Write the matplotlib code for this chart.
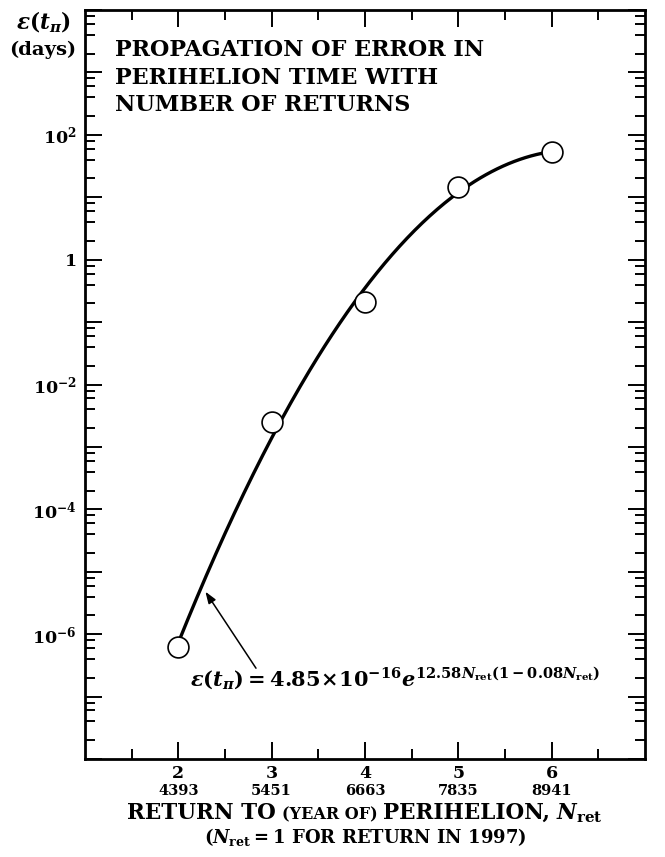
import numpy as np
import matplotlib
matplotlib.use("Agg")
import matplotlib.pyplot as plt
from matplotlib.ticker import LogLocator, FixedLocator, FuncFormatter, NullFormatter

# bold serif for text, bold math throughout
plt.rcParams['font.family'] = 'DejaVu Serif'
plt.rcParams['font.weight'] = 'bold'
plt.rcParams['mathtext.fontset'] = 'custom'
plt.rcParams['mathtext.rm'] = 'DejaVu Serif:bold'
plt.rcParams['mathtext.bf'] = 'DejaVu Serif:bold'
plt.rcParams['mathtext.it'] = 'DejaVu Serif:italic:bold'

# returns to perihelion and measured error (days)
n_ret = [2, 3, 4, 5, 6]
years = [4393, 5451, 6663, 7835, 8941]
err_days = [6.3e-7, 2.5e-3, 0.21, 14.4, 54.0]

# fit: eps = A * exp(b*N*(1 - c*N))
fit_A = 4.85e-16
fit_b = 12.58
fit_c = 0.08

W, H = 665, 857
fig = plt.figure(figsize=(W / 100, H / 100), dpi=100)
ax = fig.add_axes([85 / W, 1 - 759 / H, 560 / W, 749 / H])

nn = np.linspace(n_ret[0], n_ret[-1], 200)
ax.plot(nn, fit_A * np.exp(fit_b * nn * (1 - fit_c * nn)), color='k', lw=2.4, zorder=2)
ax.plot(n_ret, err_days, 'o', ms=15, mfc='white', mec='k', mew=1.2, zorder=3)

ax.set_yscale('log')
ax.set_xlim(1, 7)
ax.set_ylim(1e-8, 1e4)


def ylab(v, pos):
    e = int(round(np.log10(v)))
    if e % 2 or e < -6 or e > 2:
        return ''
    if e == 0:
        return '1'
    return r'$\mathbf{10^{%d}}$' % e


ax.yaxis.set_major_locator(LogLocator(base=10, numticks=30))
ax.yaxis.set_minor_locator(LogLocator(base=10, subs=(2, 4, 6, 8), numticks=30))
ax.yaxis.set_major_formatter(FuncFormatter(ylab))
ax.yaxis.set_minor_formatter(NullFormatter())

ax.xaxis.set_major_locator(FixedLocator(n_ret))
ax.xaxis.set_minor_locator(FixedLocator(np.arange(1.5, 7, 1.0)))
ax.set_xticklabels([str(n) for n in n_ret])

ax.tick_params(which='both', direction='in', top=True, right=True, width=1.4, colors='k')
ax.tick_params(which='major', length=12, labelsize=12.5)
ax.tick_params(axis='y', which='major', pad=6)
ax.tick_params(axis='x', which='major', pad=4)
ax.tick_params(which='minor', length=7.5)
for s in ax.spines.values():
    s.set_linewidth(2)

for n, yr in zip(n_ret, years):
    ax.text(n, -0.043, str(yr), transform=ax.get_xaxis_transform(),
            ha='center', va='center', fontsize=10.5)

# title block
title_lines = ['PROPAGATION OF ERROR IN', 'PERIHELION TIME WITH', 'NUMBER OF RETURNS']
for i, line in enumerate(title_lines):
    fig.text(115 / W, 1 - (50 + 27.5 * i) / H, line, ha='left', va='center', fontsize=16)

# axis label at top left
fig.text(43 / W, 1 - 22 / H, r'$\epsilon(t_\pi)$', ha='center', va='center', fontsize=15.5)
fig.text(43 / W, 1 - 50 / H, '(days)', ha='center', va='center', fontsize=14)

# fit formula with arrow
ax.text(2.125, 2.0e-7,
        r'$\epsilon(t_\pi) = 4.85\!\times\!10^{-16}e^{12.58N_{\rm ret}(1-0.08N_{\rm ret})}$',
        ha='left', va='center', fontsize=15)
ax.annotate('', xy=(2.29, 4.8e-6), xytext=(2.832, 2.85e-7),
            arrowprops=dict(arrowstyle='-|>,head_length=0.7,head_width=0.25',
                            color='k', lw=1.1, shrinkA=0, shrinkB=0))

# x label in mixed sizes, centred under the axes
pieces = [('RETURN TO', 15.5, 0), ('(YEAR OF)', 11.5, 6), ('PERIHELION,', 15.5, 6),
          (r'$N_{\rm ret}$', 15.5, 6)]
fig.canvas.draw()
rend = fig.canvas.get_renderer()
objs = []
total = 0
for s, fs, gap in pieces:
    t = fig.text(0, 0, s, fontsize=fs, ha='left', va='baseline')
    w = t.get_window_extent(rend).width
    objs.append((t, w, gap))
    total += w + gap
x0 = 365 - total / 2
base = 819
for t, w, gap in objs:
    x0 += gap
    t.set_position((x0 / W, 1 - base / H))
    x0 += w

fig.text(365 / W, 1 - 837 / H, r'($N_{\rm ret} = 1$ FOR RETURN IN 1997)',
         ha='center', va='center', fontsize=13)

fig.savefig('out.png', dpi=100)
